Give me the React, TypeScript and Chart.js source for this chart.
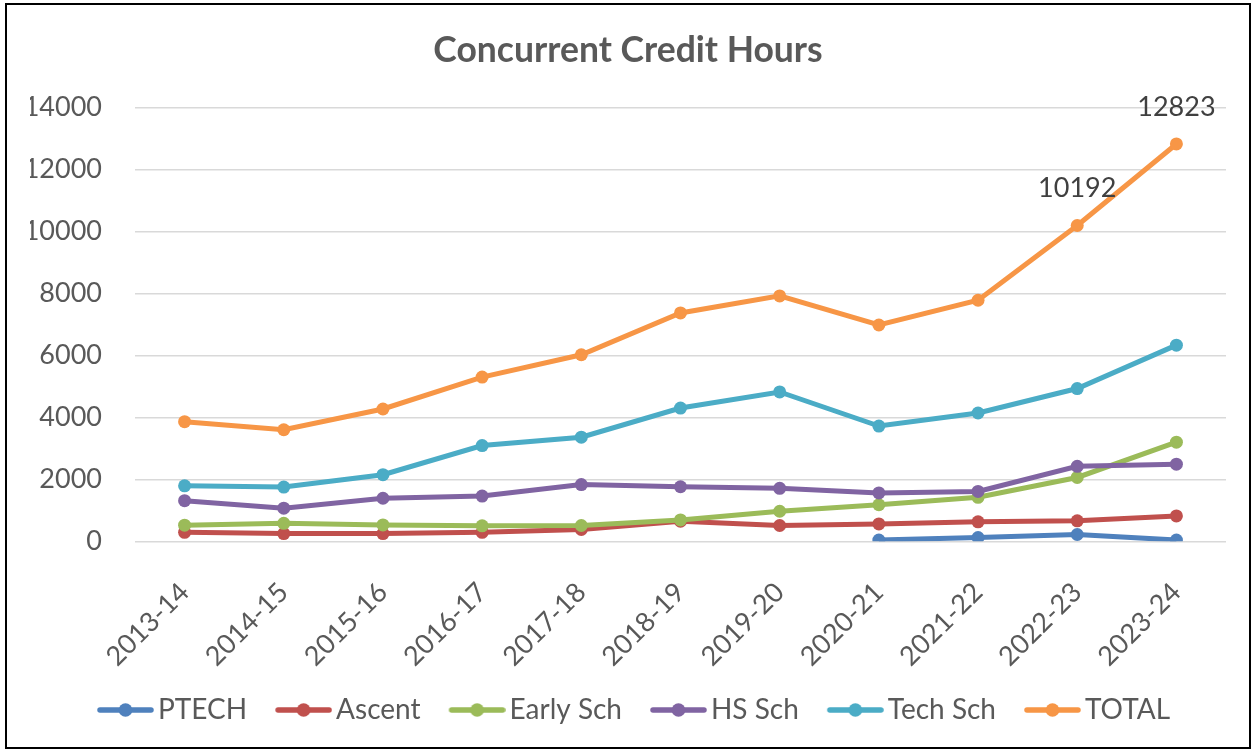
import React, { useEffect, useRef } from "react";
import { Chart, registerables } from "chart.js";

Chart.register(...registerables);

const categories = ["2013-14", "2014-15", "2015-16", "2016-17", "2017-18", "2018-19", "2019-20", "2020-21", "2021-22", "2022-23", "2023-24"];
const ptech = [null, null, null, null, null, null, null, 40, 120, 220, 40];
const ascent = [290, 250, 250, 290, 380, 650, 510, 560, 630, 660, 820];
const earlySch = [520, 580, 530, 500, 510, 690, 970, 1180, 1420, 2060, 3200];
const hsSch = [1310, 1070, 1390, 1460, 1830, 1760, 1710, 1560, 1610, 2420, 2490];
const techSch = [1790, 1750, 2150, 3090, 3360, 4300, 4820, 3720, 4140, 4930, 6330];
const total = [3860, 3600, 4270, 5300, 6020, 7370, 7920, 6980, 7780, 10192, 12823];
const labeledTotalIndices = [9, 10];
const yMin = 0;
const yMax = 14000;
const yStep = 2000;

const seriesNames = ["PTECH", "Ascent", "Early Sch", "HS Sch", "Tech Sch", "TOTAL"];
const seriesColors = ["#4F81BD", "#C0504D", "#9BBB59", "#8064A2", "#4BACC6", "#F79646"];
const seriesValues = [ptech, ascent, earlySch, hsSch, techSch, total];

const FONT = "Lato, 'Open Sans', sans-serif";
const TEXT = "#595959";

// Legend marker: line with a dot, offset to the right inside a wider transparent image
function makeMarker(color: string): HTMLCanvasElement {
  const c = document.createElement("canvas");
  c.width = 78;
  c.height = 18;
  const g = c.getContext("2d")!;
  const x0 = 21;
  g.strokeStyle = color;
  g.lineWidth = 5.5;
  g.lineCap = "round";
  g.beginPath();
  g.moveTo(x0 + 3, 9);
  g.lineTo(x0 + 54, 9);
  g.stroke();
  g.fillStyle = color;
  g.beginPath();
  g.arc(x0 + 28.5, 9, 6.8, 0, Math.PI * 2);
  g.fill();
  return c;
}

const totalLabelPlugin = {
  id: "totalLabels",
  afterDatasetsDraw(chart: any) {
    const idx = seriesNames.indexOf("TOTAL");
    const meta = chart.getDatasetMeta(idx);
    const ctx = chart.ctx;
    ctx.save();
    ctx.font = `27px ${FONT}`;
    ctx.fillStyle = "#404040";
    ctx.textAlign = "center";
    ctx.textBaseline = "middle";
    labeledTotalIndices.forEach((i) => {
      const pt = meta.data[i];
      if (pt) ctx.fillText(String(total[i]), pt.x, pt.y - 37);
    });
    ctx.restore();
  },
};

export default function App() {
  const ref = useRef<HTMLCanvasElement>(null);

  useEffect(() => {
    if (!ref.current) return;
    const markers = seriesColors.map(makeMarker);
    const chart = new Chart(ref.current, {
      type: "line",
      data: {
        labels: categories,
        datasets: seriesNames.map((name, i) => ({
          label: name,
          data: seriesValues[i],
          borderColor: seriesColors[i],
          backgroundColor: seriesColors[i],
          pointBackgroundColor: seriesColors[i],
          pointBorderColor: seriesColors[i],
          borderWidth: 5,
          pointRadius: 6.5,
          pointBorderWidth: 0,
          tension: 0,
          fill: false,
          order: -i,
        })),
      },
      options: {
        animation: false,
        responsive: false,
        layout: { padding: { left: 23, right: 23, top: 0, bottom: 17 } },
        plugins: {
          tooltip: { enabled: false },
          title: {
            display: true,
            text: "Concurrent Credit Hours",
            color: TEXT,
            font: { family: FONT, size: 35.5, weight: "bold" },
            padding: { top: 24, bottom: 35.9 },
          },
          legend: {
            position: "bottom",
            maxHeight: 51,
            labels: {
              usePointStyle: true,
              pointStyleWidth: 58,
              padding: 17,
              color: TEXT,
              font: { family: FONT, size: 28 },
              generateLabels: (ch: any) =>
                ch.data.datasets.map((ds: any, i: number) => ({
                  text: ds.label,
                  fillStyle: ds.borderColor,
                  strokeStyle: ds.borderColor,
                  lineWidth: 0,
                  hidden: false,
                  datasetIndex: i,
                  pointStyle: markers[i],
                  fontColor: TEXT,
                })),
            },
          },
        },
        scales: {
          x: {
            offset: true,
            grid: { display: false },
            border: { display: false },
            ticks: {
              color: TEXT,
              font: { family: FONT, size: 27 },
              minRotation: 45,
              maxRotation: 45,
              padding: 27,
            },
            afterFit: (s: any) => {
              s.height = 137.7;
            },
          },
          y: {
            min: yMin,
            max: yMax,
            grid: { color: "#D9D9D9", lineWidth: 1.5, drawTicks: false },
            border: { display: false },
            ticks: {
              stepSize: yStep,
              color: TEXT,
              font: { family: FONT, size: 27 },
              padding: 33,
              callback: (v: any) => String(v),
            },
            afterFit: (s: any) => {
              s.width = 105;
            },
          },
        },
      },
      plugins: [totalLabelPlugin],
    });
    return () => chart.destroy();
  }, []);

  return (
    <div
      style={{
        position: "absolute",
        left: 5,
        top: 3,
        width: 1246,
        height: 746,
        border: "2px solid #000",
        boxSizing: "border-box",
        background: "#fff",
      }}
    >
      <canvas ref={ref} width={1242} height={742} style={{ display: "block" }} />
    </div>
  );
}
